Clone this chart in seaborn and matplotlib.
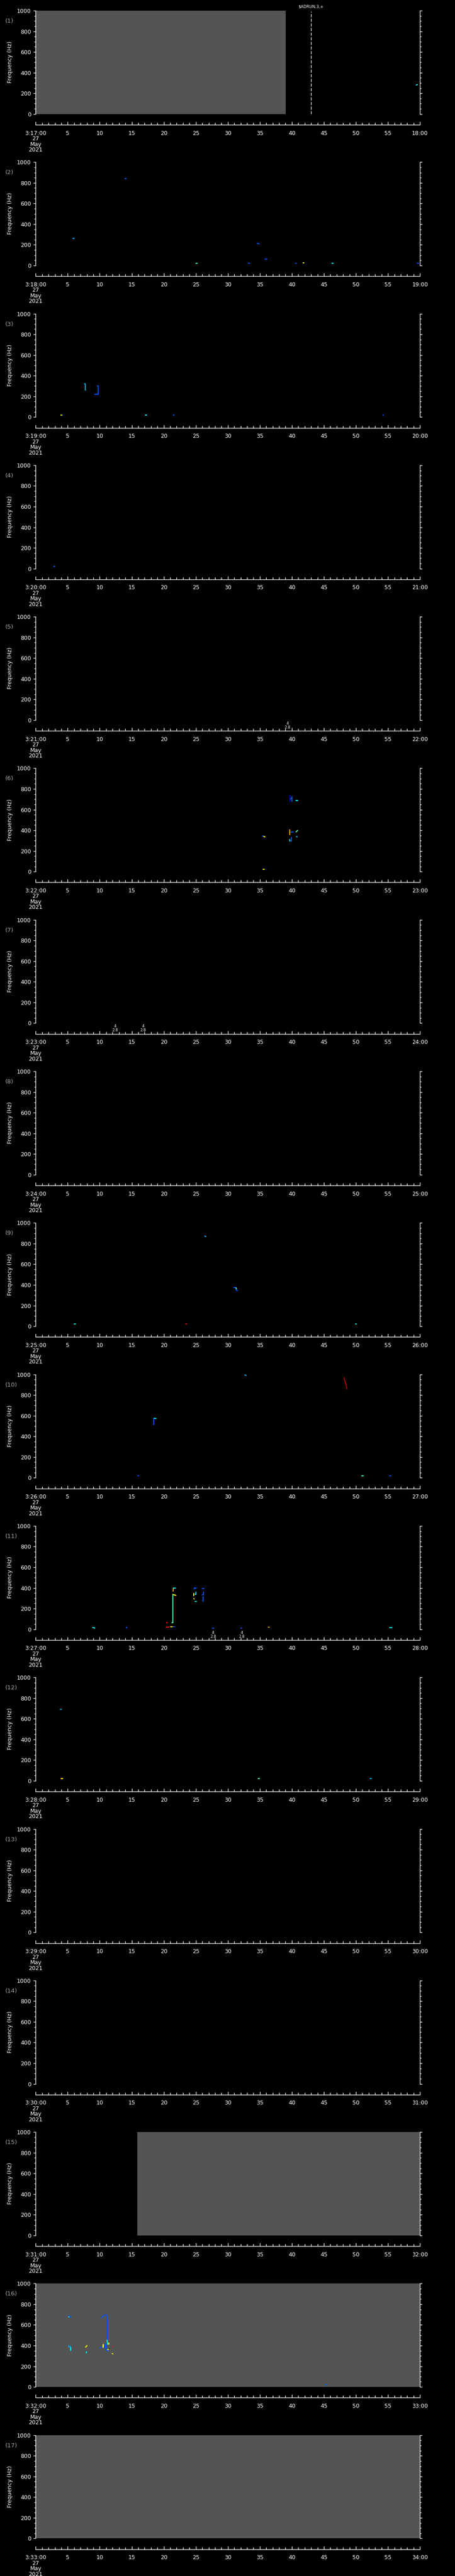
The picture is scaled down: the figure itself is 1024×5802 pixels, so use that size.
import numpy as np
import pandas as pd
import matplotlib
matplotlib.use("Agg")
import matplotlib.pyplot as plt
from matplotlib.ticker import MultipleLocator, FixedLocator, FixedFormatter
import seaborn as sns

sns.set_theme(style="ticks")
plt.rcParams["font.family"] = ["DejaVu Sans"]

# ---------------- data ----------------
W, H = 1024, 5802
N_PANELS = 17
panel_start_minute = [17 + i for i in range(N_PANELS)]   # 3:17 ... 3:33
date_lines = ["27", "May", "2021"]
freq_ticks = [0, 200, 400, 600, 800, 1000]

# grey (no-data) time spans in seconds, per panel number
gray_spans = {1: [(0.0, 39.05)], 15: [(15.9, 60.0)], 16: [(0.0, 60.0)], 17: [(0.0, 60.0)]}
# dashed event marker: panel -> (second, label)
event_marker = {1: (43.0, r"\$ADRUN,3,+")}
# small "4 / 2.8" annotations under the plot: panel -> seconds
annotations = {5: [39.3], 7: [12.4, 16.8], 11: [27.7, 32.2]}
annotation_text = "4\n2.8"

# colour levels (spectral intensity) used by the traces
level_colors = {
    "L0": "#0000d8", "L1": "#0050ff", "L2": "#00b0ff", "L3": "#00ffff",
    "L4": "#50ffa8", "L5": "#ffff00", "L6": "#ffa000", "L7": "#ff1010", "L8": "#b00000",
}

# traces: (panel, seconds, frequencies, level)
traces = [
    (1, [59.4, 59.6], [279, 285], "L3"),
    # panel 2
    (2, [13.95, 14.15], [843, 843], "L1"),
    (2, [5.8, 6.0], [260, 260], "L2"),
    (2, [34.6, 34.9], [214, 209], "L1"),
    (2, [35.8, 36.1], [61, 63], "L1"),
    (2, [25.05, 25.2], [21, 21], "L4"),
    (2, [33.2, 33.4], [23, 21], "L1"),
    (2, [40.55, 40.7], [21, 21], "L1"),
    (2, [41.75, 41.9], [24, 24], "L5"),
    (2, [46.25, 46.45], [21, 21], "L3"),
    (2, [59.6, 59.8], [21, 21], "L1"),
    # panel 3
    (3, [7.6, 7.75, 7.75, 7.8], [322, 322, 262, 260], "L2"),
    (3, [9.65, 9.75, 9.75, 9.2], [303, 303, 222, 222], "L1"),
    (3, [3.9, 4.05], [19, 19], "L5"),
    (3, [4.05, 4.2], [19, 19], "L1"),
    (3, [17.1, 17.3], [19, 19], "L3"),
    (3, [21.45, 21.6], [21, 19], "L1"),
    (3, [54.2, 54.3], [19, 19], "L1"),
    # panel 4
    (4, [2.8, 3.0], [20, 22], "L1"),
    # panel 6
    (6, [39.7, 39.7], [680, 738], "L0"),
    (6, [40.0, 40.0], [678, 725], "L1"),
    (6, [39.75, 40.0], [700, 715], "L1"),
    (6, [40.65, 40.9], [689, 689], "L3"),
    (6, [39.65, 39.65], [406, 356], "L6"),
    (6, [39.8, 40.2], [384, 384], "L1"),
    (6, [40.65, 40.9], [384, 399], "L4"),
    (6, [39.65, 39.7], [310, 295], "L3"),
    (6, [39.95, 39.95], [330, 295], "L1"),
    (6, [40.7, 40.85], [339, 337], "L2"),
    (6, [35.45, 35.6], [346, 346], "L1"),
    (6, [35.6, 35.8], [340, 337], "L5"),
    (6, [35.5, 35.7], [24, 24], "L5"),
    # panel 9
    (9, [26.4, 26.6], [872, 868], "L2"),
    (9, [30.9, 31.3], [375, 375], "L1"),
    (9, [31.3, 31.3, 31.5], [372, 350, 344], "L1"),
    (9, [31.25, 31.35], [370, 362], "L4"),
    (9, [6.0, 6.2], [22, 22], "L3"),
    (9, [23.45, 23.6], [22, 22], "L7"),
    (9, [49.95, 50.1], [22, 22], "L3"),
    # panel 10
    (10, [32.65, 32.85], [995, 990], "L2"),
    (10, [48.15, 48.6], [968, 861], "L8"),
    (10, [18.4, 18.45, 18.45], [513, 513, 574], "L1"),
    (10, [18.5, 18.8], [576, 572], "L3"),
    (10, [15.95, 16.1], [20, 20], "L1"),
    (10, [50.9, 51.15], [20, 20], "L4"),
    (10, [55.3, 55.5], [20, 20], "L1"),
    # panel 11
    (11, [21.4, 21.4], [64, 336], "L4"),
    (11, [21.45, 21.9], [336, 328], "L5"),
    (11, [21.45, 21.5], [368, 399], "L6"),
    (11, [21.5, 21.8], [399, 399], "L3"),
    (11, [20.45, 20.6], [63, 63], "L7"),
    (11, [21.3, 21.4], [63, 63], "L4"),
    (11, [20.4, 20.8], [20, 20], "L7"),
    (11, [21.1, 21.35], [23, 23], "L5"),
    (11, [21.45, 21.7], [23, 23], "L1"),
    (11, [24.7, 24.85, 24.9, 25.1], [390, 402, 396, 399], "L1"),
    (11, [24.7, 24.7], [346, 325], "L5"),
    (11, [24.7, 24.75], [298, 292], "L5"),
    (11, [24.9, 25.0, 25.0], [340, 340, 361], "L3"),
    (11, [24.9, 25.1], [270, 270], "L3"),
    (11, [26.2, 26.2, 26.0], [361, 332, 332], "L1"),
    (11, [26.1, 26.1, 26.2], [270, 313, 313], "L1"),
    (11, [26.0, 26.3], [395, 395], "L1"),
    (11, [8.9, 9.15, 9.2], [16, 16, 9], "L3"),
    (11, [14.15, 14.3], [16, 16], "L1"),
    (11, [27.6, 27.8], [12, 12], "L1"),
    (11, [32.05, 32.2], [12, 12], "L1"),
    (11, [36.35, 36.5], [20, 20], "L6"),
    (11, [55.3, 55.6], [16, 16], "L3"),
    # panel 12
    (12, [3.85, 4.0], [691, 691], "L2"),
    (12, [3.9, 4.0], [23, 23], "L7"),
    (12, [4.0, 4.2], [23, 23], "L5"),
    (12, [34.7, 34.95], [20, 20], "L4"),
    (12, [52.2, 52.45], [20, 20], "L2"),
    # panel 16
    (16, [5.2, 5.3, 5.5], [690, 680, 673], "L1"),
    (16, [5.15, 5.2], [680, 676], "L3"),
    (16, [5.2, 5.2, 5.45], [401, 386, 386], "L2"),
    (16, [5.45, 5.45], [386, 354], "L3"),
    (16, [7.8, 8.0], [384, 400], "L5"),
    (16, [7.9, 7.95], [329, 340], "L3"),
    (16, [10.0, 10.1, 10.3], [380, 380, 386], "L1"),
    (16, [10.3, 10.45, 10.6, 10.95, 11.1, 11.15], [669, 683, 690, 697, 692, 687], "L1"),
    (16, [11.15, 11.15], [687, 453], "L1"),
    (16, [11.15, 11.25], [453, 411], "L3"),
    (16, [11.4, 11.4], [425, 415], "L5"),
    (16, [10.5, 10.55, 10.55], [386, 411, 383], "L5"),
    (16, [10.75, 10.8, 10.85], [376, 414, 390], "L1"),
    (16, [10.9, 11.05, 11.1, 11.3], [414, 376, 350, 350], "L1"),
    (16, [11.2, 11.35], [360, 360], "L5"),
    (16, [11.95, 12.05], [393, 393], "L7"),
    (16, [11.95, 12.05], [323, 320], "L5"),
    (16, [45.2, 45.5], [20, 20], "L1"),
]

rows = []
for k, (p, ts, fs, lev) in enumerate(traces):
    for t, f in zip(ts, fs):
        rows.append({"panel": p, "mark": k, "t": t, "f": f, "level": lev})
df = pd.DataFrame(rows)

# ---------------- layout (pixels) ----------------
STRIP = H / N_PANELS
PLOT_L, PLOT_R = 80.3, 945.2
PLOT_T, PLOT_B = 24.0, 256.7
TAXIS_Y = 281.0


def rect(l, t, r, b):
    return [l / W, 1 - b / H, (r - l) / W, (b - t) / H]


fig = plt.figure(figsize=(W / 100, H / 100), dpi=100, facecolor="black")

for i in range(N_PANELS):
    p = i + 1
    off = i * STRIP
    ax = fig.add_axes(rect(PLOT_L, PLOT_T + off, PLOT_R, PLOT_B + off))
    ax.set_facecolor("black")
    ax.set_xlim(0, 60)
    ax.set_ylim(0, 1000)
    ax.grid(False)

    for (a, b) in gray_spans.get(p, []):
        ax.axvspan(a, b, color="#545454", lw=0, zorder=0)

    sub = df[df["panel"] == p]
    if len(sub):
        sns.lineplot(data=sub, x="t", y="f", units="mark", estimator=None,
                     hue="level", palette=level_colors, sort=False, legend=False,
                     linewidth=1.6, ax=ax, zorder=3)
    ax.set_xlabel("")
    ax.set_ylabel("")

    if p in event_marker:
        tx, lab = event_marker[p]
        ax.axvline(tx, color="white", lw=1.0, ls=(0, (5, 2.5)), ymax=0.99)
        ax.annotate(lab, xy=(tx, 1000), xytext=(0, 9), textcoords="offset pixels",
                    ha="center", va="center", color="white", fontsize=6.5,
                    annotation_clip=False)

    for tx in annotations.get(p, []):
        ax.annotate(annotation_text, xy=(tx, 0), xytext=(0, -3), textcoords="offset pixels",
                    ha="center", va="top", color="white", fontsize=6, linespacing=1.0,
                    annotation_clip=False)

    for s in ["top", "bottom"]:
        ax.spines[s].set_visible(False)
    for s in ["left", "right"]:
        ax.spines[s].set_color("white")
        ax.spines[s].set_linewidth(1.0)
    ax.set_xticks([])
    ax.yaxis.set_major_locator(FixedLocator(freq_ticks))
    ax.yaxis.set_minor_locator(MultipleLocator(50))
    ax.tick_params(axis="y", which="both", direction="out", colors="white",
                   left=True, right=True, labelleft=True, labelright=False,
                   labelsize=9, pad=4)
    ax.tick_params(axis="y", which="major", length=3.5, width=1)
    ax.tick_params(axis="y", which="minor", length=2.2, width=1)

    fig.text(23 / W, 1 - (140 + off) / H, "Frequency (Hz)", rotation=90,
             ha="center", va="center", color="white", fontsize=9)
    fig.text(12 / W, 1 - (47.5 + off) / H, f"({p})", ha="left", va="center",
             color="#a8a8a8", fontsize=9.5)

    # time axis
    tax = fig.add_axes(rect(PLOT_L, TAXIS_Y + off - 12, PLOT_R, TAXIS_Y + off))
    tax.set_facecolor("none")
    tax.patch.set_alpha(0)
    tax.set_xlim(0, 60)
    tax.set_yticks([])
    tax.grid(False)
    for s in ["top", "left", "right"]:
        tax.spines[s].set_visible(False)
    tax.spines["bottom"].set_color("white")
    tax.spines["bottom"].set_linewidth(1.0)
    m = panel_start_minute[i]
    labels = [f"3:{m:02d}:00\n" + "\n".join(date_lines)] + [str(s) for s in range(5, 60, 5)] + [f"{m + 1:02d}:00"]
    tax.xaxis.set_major_locator(FixedLocator(list(range(0, 61, 5))))
    tax.xaxis.set_major_formatter(FixedFormatter(labels))
    tax.xaxis.set_minor_locator(MultipleLocator(1))
    tax.tick_params(axis="x", which="both", direction="in", colors="white",
                    labelsize=9, pad=9, top=False, bottom=True)
    tax.tick_params(axis="x", which="major", length=5, width=1)
    tax.tick_params(axis="x", which="minor", length=3.5, width=1)
    for lab in tax.get_xticklabels():
        lab.set_linespacing(0.95)

fig.savefig("out.png", dpi=100, facecolor="black")
